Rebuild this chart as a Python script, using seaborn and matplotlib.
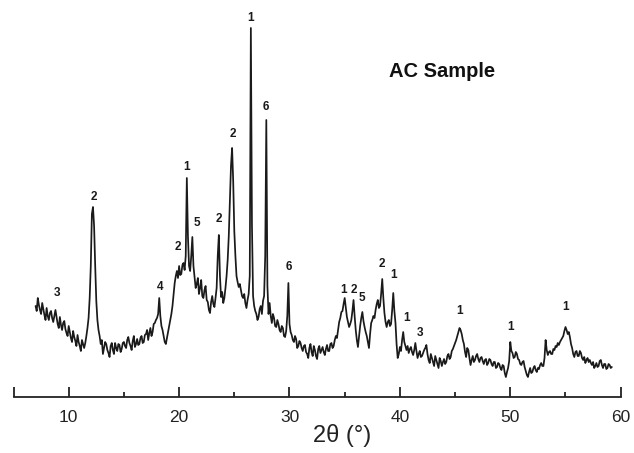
import numpy as np
import pandas as pd
import seaborn as sns
import matplotlib.pyplot as plt

# 2-theta sampling grid (deg), one reading every 0.1 deg
two_theta = np.round(np.arange(7.0, 59.25, 0.1), 1)

# intensity (arbitrary units), 20 readings = 2 deg per row
intensity = [
    100, 95, 108, 101, 96, 92, 103, 97, 91, 86, 98, 90, 86, 93, 95, 88, 84, 90, 96, 89,            # 7.0
    82, 78, 89, 81, 76, 83, 85, 77, 73, 70, 80, 74, 68, 64, 75, 69, 65, 60, 71, 64,                # 9.0
    60, 55, 66, 62, 58, 63, 70, 78, 88, 108, 140, 192, 199, 180, 140, 105, 86, 76, 70, 62,         # 11.0
    66, 52, 58, 64, 62, 56, 53, 49, 60, 63, 56, 52, 63, 58, 55, 62, 61, 54, 57, 63,                # 13.0
    64, 60, 58, 66, 69, 63, 60, 56, 65, 70, 59, 62, 67, 61, 62, 68, 70, 63, 64, 71,                # 15.0
    72, 76, 66, 73, 78, 70, 74, 82, 83, 86, 88, 92, 108, 90, 80, 76, 70, 64, 62, 68,               # 17.0
    74, 80, 86, 92, 100, 112, 123, 130, 135, 128, 140, 131, 132, 141, 143, 136, 150, 228, 170, 140,  # 19.0
    135, 150, 169, 140, 129, 118, 122, 128, 112, 118, 126, 110, 108, 116, 120, 106, 104, 96, 93, 104,  # 21.0
    110, 102, 99, 108, 118, 150, 171, 130, 109, 114, 103, 108, 118, 130, 146, 170, 205, 240, 258, 225,  # 23.0
    175, 150, 130, 124, 119, 122, 116, 110, 108, 112, 103, 98, 106, 112, 130, 378, 180, 110, 100, 95,  # 25.0
    92, 86, 89, 97, 100, 92, 105, 110, 150, 286, 120, 92, 103, 90, 83, 92, 88, 80, 79, 86,         # 27.0
    82, 76, 74, 80, 78, 70, 69, 75, 90, 123, 82, 74, 71, 66, 64, 70, 67, 58, 60, 65,               # 29.0
    63, 58, 55, 60, 61, 54, 52, 48, 58, 62, 54, 50, 60, 56, 50, 47, 57, 60, 53, 56,                # 31.0
    59, 54, 51, 57, 61, 55, 55, 62, 63, 58, 60, 66, 70, 68, 76, 84, 88, 94, 95, 102,               # 33.0
    108, 98, 89, 84, 79, 82, 86, 95, 106, 90, 76, 66, 59, 70, 80, 88, 94, 85, 79, 74,              # 35.0
    70, 64, 58, 72, 83, 86, 90, 88, 96, 102, 106, 98, 100, 112, 127, 108, 93, 84, 79, 84,          # 37.0
    86, 80, 82, 96, 113, 95, 83, 62, 48, 52, 59, 55, 66, 74, 64, 60, 56, 60, 53, 57,               # 39.0
    59, 54, 51, 56, 63, 55, 48, 52, 55, 49, 50, 53, 56, 58, 61, 52, 46, 43, 52, 48,                # 41.0
    44, 40, 50, 46, 42, 38, 48, 45, 40, 44, 47, 42, 44, 50, 52, 47, 49, 55, 57, 60,                # 43.0
    63, 66, 70, 74, 78, 76, 72, 66, 62, 54, 49, 58, 56, 48, 41, 46, 50, 44, 46, 50,                # 45.0
    52, 47, 44, 48, 49, 45, 42, 46, 47, 41, 43, 47, 46, 42, 40, 44, 44, 38, 39, 43,                # 47.0
    42, 38, 36, 41, 40, 33, 29, 34, 38, 45, 64, 55, 53, 48, 49, 54, 52, 47, 46, 42,                # 49.0
    41, 44, 45, 39, 35, 31, 29, 34, 38, 33, 34, 38, 40, 36, 34, 38, 37, 41, 43, 40,                # 51.0
    40, 48, 66, 56, 51, 54, 55, 52, 52, 57, 56, 60, 59, 63, 61, 64, 66, 68, 70, 75,                # 53.0
    79, 76, 72, 74, 69, 62, 58, 52, 49, 54, 55, 50, 50, 55, 53, 48, 46, 49, 43, 46,                # 55.0
    48, 44, 46, 43, 41, 44, 38, 40, 43, 39, 40, 45, 46, 41, 38, 42, 42, 37, 38, 42,                # 57.0
    41, 38, 39,                                                                                    # 59.0
]

# phase labels above the reflections
peak_labels = ["3", "2", "4", "2", "1", "5", "2", "2", "1", "6", "6",
               "1", "2", "5", "2", "1", "1", "3", "1", "1", "1"]
peak_label_x = [8.9, 12.25, 18.27, 19.85, 20.65, 21.6, 23.6, 24.85, 26.5, 27.87, 29.93,
                34.94, 35.8, 36.57, 38.4, 39.47, 40.56, 41.8, 45.42, 50.06, 55.0]
peak_label_y = [113, 209, 119, 159, 239, 183, 187, 272, 388, 299, 139,
                116, 116, 108, 142, 131, 88, 73, 95, 79, 99]

major_ticks = [5, 10, 20, 30, 40, 50, 60]
major_tick_labels = ["", "10", "20", "30", "40", "50", "60"]
minor_ticks = [15, 25, 35, 45, 55]


def main():
    df = pd.DataFrame({"two_theta": two_theta, "intensity": intensity})

    sns.set_style("white")
    plt.rcParams["font.family"] = ["Liberation Sans", "DejaVu Sans"]

    fig = plt.figure(figsize=(6.34, 4.53), dpi=100)
    ax = fig.add_axes([0.0213, 0.1236, 0.9577, 0.8411])

    sns.lineplot(data=df, x="two_theta", y="intensity", color="#1a1a1a",
                 linewidth=1.25, ax=ax)

    for lab, px, py in zip(peak_labels, peak_label_x, peak_label_y):
        ax.text(px, py, lab, ha="center", va="center", fontsize=8.5,
                fontweight="bold", color="#1a1a1a")

    ax.text(43.8, 334, "AC Sample", ha="center", va="center", fontsize=14.5,
            fontweight="bold", color="#111111")

    ax.set_xlim(5, 60)
    ax.set_ylim(9, 390)

    for side in ["left", "top", "right"]:
        ax.spines[side].set_visible(False)
    ax.spines["bottom"].set_linewidth(1.3)
    ax.spines["bottom"].set_color("#222222")

    ax.set_xticks(major_ticks)
    ax.set_xticklabels(major_tick_labels)
    ax.set_xticks(minor_ticks, minor=True)
    ax.tick_params(axis="x", which="major", direction="in", length=7, width=1.3,
                   color="#222222", labelsize=12.5, labelcolor="#222222", pad=9,
                   bottom=True)
    ax.tick_params(axis="x", which="minor", direction="in", length=3.5, width=1.3,
                   color="#222222", bottom=True)
    ax.set_yticks([])
    ax.set_ylabel("")

    ax.set_xlabel("2θ (°)", fontsize=17, color="#222222")
    ax.xaxis.set_label_coords(0.541, -0.072)

    fig.savefig("out.png", dpi=100)
    plt.close(fig)


if __name__ == "__main__":
    main()
